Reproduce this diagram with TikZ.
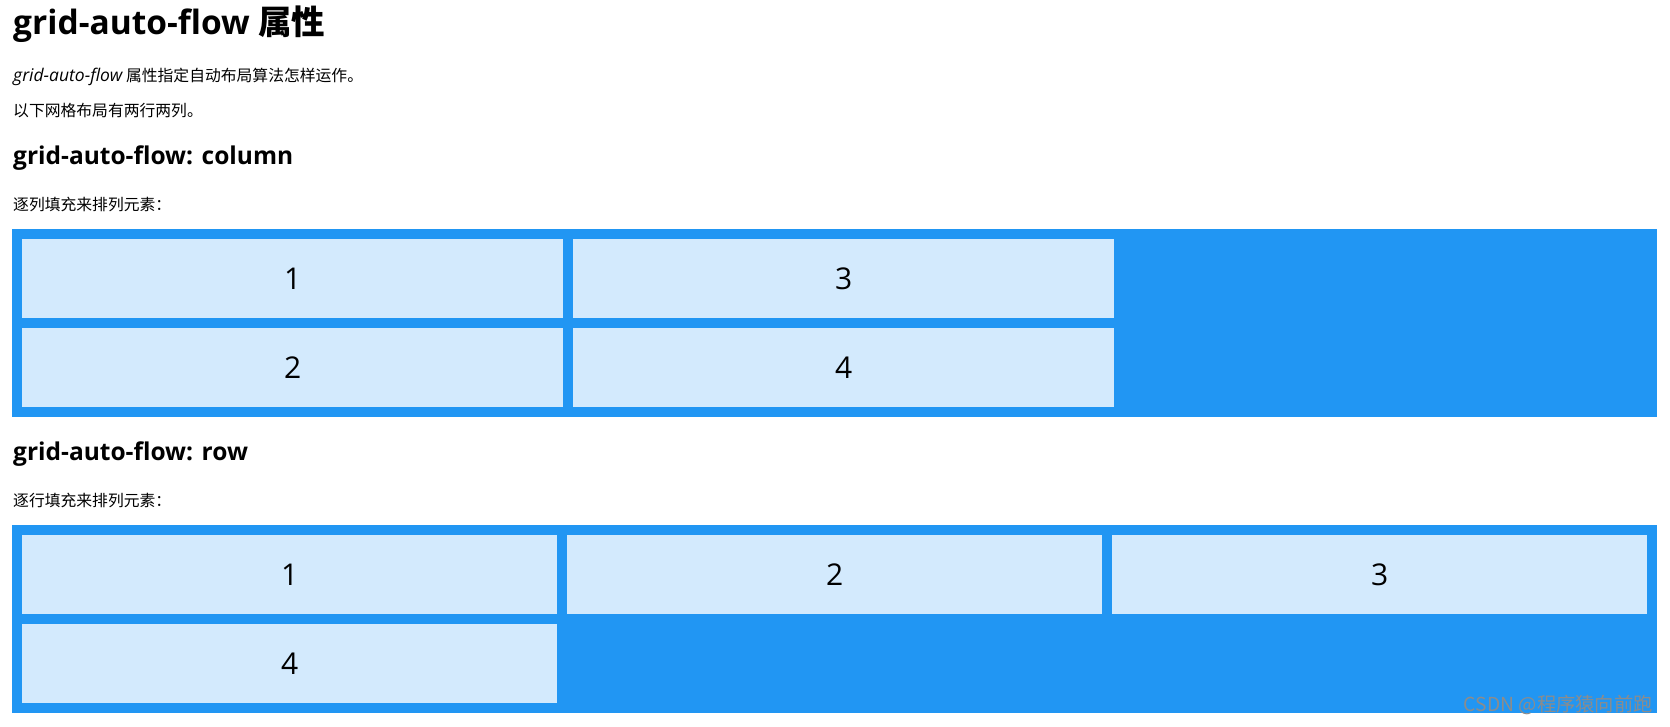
\documentclass[tikz,border=0pt]{standalone}
\usepackage{fontspec}
\setmainfont{Open Sans}
\newfontfamily\cjk{Noto Sans CJK SC}
\definecolor{gridblue}{RGB}{33,150,243}
\definecolor{cellblue}{RGB}{211,234,253}
\definecolor{wmgray}{RGB}{140,140,140}
\tikzset{
  cellbox/.style={fill=cellblue, draw=none, inner sep=0pt, anchor=north west, minimum height=79pt, font=\fontsize{30}{36}\selectfont},
  gridbox/.style={fill=gridblue, draw=none, inner sep=0pt, anchor=north west},
  txt/.style={inner sep=0pt, anchor=base west},
  h1txt/.style={txt, font=\fontsize{33.5}{40}\selectfont\bfseries},
  h2txt/.style={txt, font=\fontsize{24.5}{30}\selectfont\bfseries},
  ptxt/.style={txt, font=\fontsize{15.8}{18}\selectfont\cjk},
}
\begin{document}
\begin{tikzpicture}[x=1pt, y=-1pt]
\useasboundingbox[fill=white] (0,0) rectangle (1670,726);
% headings and text
\node[h1txt] (title) at (13,34) {grid-auto-flow {\cjk 属性}};
\node[ptxt] (p1) at (13,81) {{\fontspec{Open Sans}\fontsize{17.5}{18}\selectfont\itshape grid-auto-flow} 属性指定自动布局算法怎样运作。};
\node[ptxt] (p2) at (13,116) {以下网格布局有两行两列。};
\node[h2txt] (h2a) at (13,164) {grid-auto-flow: column};
\node[ptxt] (p3) at (13,210) {逐列填充来排列元素：};
% grid 1 (column flow)
\node[gridbox, minimum width=1645pt, minimum height=188pt] (g1) at (12,229) {};
\node[cellbox, minimum width=541pt] (a1) at (22,239) {1};
\node[cellbox, minimum width=541pt] (a2) at (22,328) {2};
\node[cellbox, minimum width=541pt] (a3) at (573,239) {3};
\node[cellbox, minimum width=541pt] (a4) at (573,328) {4};
% second heading
\node[h2txt] (h2b) at (13,460) {grid-auto-flow: row};
\node[ptxt] (p4) at (13,506) {逐行填充来排列元素：};
% grid 2 (row flow)
\node[gridbox, minimum width=1645pt, minimum height=188pt] (g2) at (12,525) {};
\node[cellbox, minimum width=535pt] (b1) at (22,535) {1};
\node[cellbox, minimum width=535pt] (b2) at (567,535) {2};
\node[cellbox, minimum width=535pt] (b3) at (1112,535) {3};
\node[cellbox, minimum width=535pt] (b4) at (22,624) {4};
% watermark
\node[inner sep=0pt, anchor=base east, text=wmgray, font=\fontsize{19.3}{21}\selectfont\cjk] (wm) at (1653,711) {CSDN @程序猿向前跑};
\end{tikzpicture}
\end{document}
